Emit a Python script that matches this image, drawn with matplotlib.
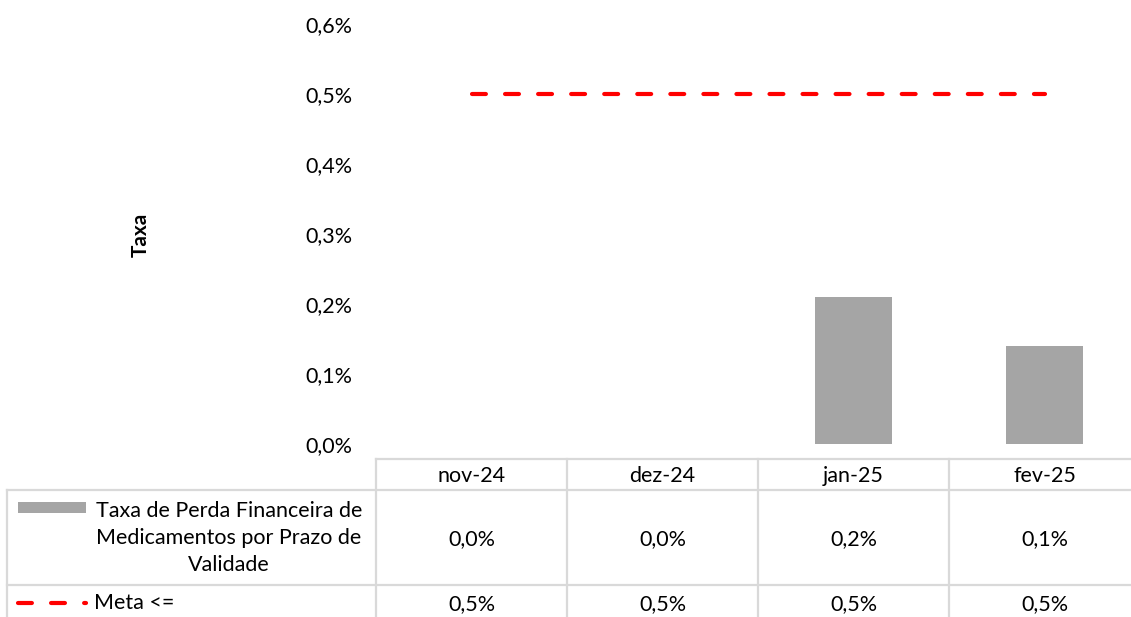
import numpy as np
import matplotlib
matplotlib.use("Agg")
from matplotlib import pyplot as plt
from matplotlib.transforms import blended_transform_factory

plt.rcParams['font.family'] = ['Lato', 'DejaVu Sans']
plt.rcParams['lines.scale_dashes'] = False

# monthly data
months = ["nov-24", "dez-24", "jan-25", "fev-25"]
perda = [0.0, 0.0, 0.0021, 0.0014]  # Taxa de Perda Financeira
meta = [0.005, 0.005, 0.005, 0.005]  # Meta <=
yticks = [0.0, 0.001, 0.002, 0.003, 0.004, 0.005, 0.006]

serie_perda = "Taxa de Perda Financeira de\nMedicamentos por Prazo de\nValidade"
serie_meta = "Meta <="

W, H = 1131, 617
BAR_COLOR = "#a5a5a5"
META_COLOR = "#ff0000"
GRID_COLOR = "#d9d9d9"
FS = 15.5
DASH = (10, 13.8)


def pct(v):
    return ("%.1f%%" % (v * 100)).replace(".", ",")


fig = plt.figure(figsize=(W / 100, H / 100), dpi=100)

# main plot area, placed in pixels
x0, x1 = 376, 1140
ytop, ybot = 24, 444
ax = fig.add_axes([x0 / W, (H - ybot) / H, (x1 - x0) / W, (ybot - ytop) / H])
x = np.arange(len(months))
ax.bar(x, perda, width=0.4, color=BAR_COLOR, zorder=2)
ax.plot(x, meta, color=META_COLOR, lw=3, dashes=DASH, dash_capstyle='round', zorder=3)
ax.set_xlim(-0.5, len(months) - 0.5)
ax.set_ylim(0, 0.006)
ax.set_yticks(yticks)
ax.set_yticklabels([pct(v) for v in yticks], fontsize=FS)
ax.tick_params(axis='y', length=0, pad=17)
ax.set_xticks([])
for s in ax.spines.values():
    s.set_visible(False)
ax.patch.set_alpha(0)

fig.text(141 / W, 1 - 235 / H, "Taxa", rotation=90, fontsize=FS - 0.5, fontweight='bold',
         ha='center', va='center')

# data table underneath, pixel coordinates
tab = fig.add_axes([0, 0, 1, 1], zorder=-1)
tab.set_xlim(0, W)
tab.set_ylim(H, 0)
tab.axis('off')
tr = blended_transform_factory(ax.transData, tab.transData)

row_top, row_head, row_mid = 459, 490, 585
lw_grid = 1.6
for b in np.arange(len(months) + 1) - 0.5:
    tab.plot([b, b], [row_top, H], color=GRID_COLOR, lw=lw_grid, transform=tr, clip_on=False)
tab.plot([-0.5, len(months) - 0.5], [row_top, row_top], color=GRID_COLOR, lw=lw_grid, transform=tr)
tab.plot([7, x1], [row_head, row_head], color=GRID_COLOR, lw=lw_grid)
tab.plot([7, x1], [row_mid, row_mid], color=GRID_COLOR, lw=lw_grid)
tab.plot([7, 7], [row_head, H], color=GRID_COLOR, lw=lw_grid)

for i, m in enumerate(months):
    tab.text(i, 476, m, transform=tr, ha='center', va='center', fontsize=FS)
    tab.text(i, 539, pct(perda[i]), transform=tr, ha='center', va='center', fontsize=FS)
    tab.text(i, 604, pct(meta[i]), transform=tr, ha='center', va='center', fontsize=FS)

# legend keys and series names
tab.fill_between([18, 86], 502, 513, color=BAR_COLOR, lw=0)
tab.text(229, 538, serie_perda, ha='center', va='center', fontsize=FS, linespacing=1.42)
tab.plot([18, 86], [603, 603], color=META_COLOR, lw=3, dashes=DASH, dash_capstyle='round')
tab.text(94, 603, serie_meta, ha='left', va='center', fontsize=FS)

fig.savefig("out.png", dpi=100)
